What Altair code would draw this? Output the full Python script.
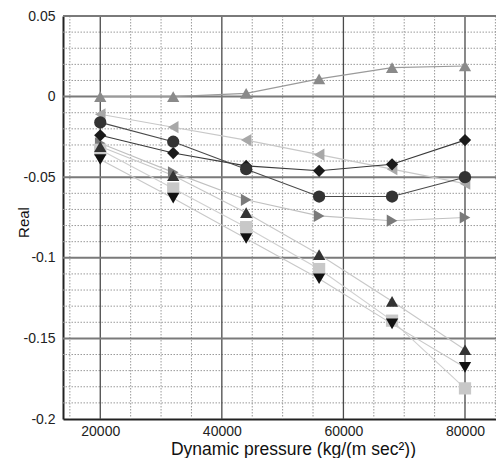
import altair as alt
import pandas as pd

# ---- data ----
x_vals = [20000, 32000, 44000, 56000, 68000, 80000]

series_names = ["up_grey", "left", "right", "square", "up_dark", "down", "diamond", "circle"]
up_grey = [0.000, 0.000, 0.002, 0.011, 0.018, 0.019]
left = [-0.011, -0.019, -0.027, -0.036, -0.045, -0.054]
right = [-0.029, -0.047, -0.064, -0.074, -0.077, -0.075]
square = [-0.033, -0.057, -0.081, -0.107, -0.139, -0.181]
up_dark = [-0.031, -0.049, -0.072, -0.098, -0.127, -0.157]
down = [-0.039, -0.063, -0.088, -0.113, -0.141, -0.168]
diamond = [-0.024, -0.035, -0.043, -0.046, -0.042, -0.027]
circle = [-0.016, -0.028, -0.045, -0.062, -0.062, -0.050]

series_values = [up_grey, left, right, square, up_dark, down, diamond, circle]
shapes = ["triangle-up", "triangle-left", "triangle-right", "square",
          "triangle-up", "triangle-down", "diamond", "circle"]
marker_colors = ["#8a8a8a", "#a8a8a8", "#7a7a7a", "#c8c8c8",
                 "#333333", "#111111", "#1a1a1a", "#333333"]
line_colors = ["#9a9a9a", "#c8c8c8", "#c0c0c0", "#d0d0d0",
               "#c8c8c8", "#c8c8c8", "#3a3a3a", "#4a4a4a"]
marker_sizes = [150, 150, 150, 115, 150, 150, 160, 150]

x_major = [20000, 40000, 60000, 80000]
x_minor = [15000, 25000, 30000, 35000, 45000, 50000, 55000, 65000, 70000, 75000, 85000]
y_major = [0.05, 0.0, -0.05, -0.1, -0.15]
y_minor = [0.04, 0.03, 0.02, 0.01, -0.01, -0.02, -0.03, -0.04,
           -0.06, -0.07, -0.08, -0.09, -0.11, -0.12, -0.13, -0.14,
           -0.16, -0.17, -0.18, -0.19]
y_ticks = [0.05, 0.0, -0.05, -0.1, -0.15, -0.2]

rows = []
for order, (name, vals) in enumerate(zip(series_names, series_values)):
    for xv, yv in zip(x_vals, vals):
        rows.append({"series": name, "order": order, "x": xv, "y": yv})
df = pd.DataFrame(rows)

xscale = alt.Scale(domain=[13870, 85100], nice=False, zero=False)
yscale = alt.Scale(domain=[-0.2, 0.05], nice=False, zero=False)

FONT = "Liberation Sans"

x_axis = alt.Axis(
    title="Dynamic pressure (kg/(m sec²))",
    values=x_major, labelExpr="toString(datum.value)", grid=False,
    tickSize=0, labelPadding=5, domainColor="#222222", domainWidth=2,
    labelFont=FONT, labelFontSize=14, labelColor="#222222",
    titleFont=FONT, titleFontSize=17.5, titleFontWeight="normal", titleColor="#111111",
    titleX=230, titleY=35, titleAlign="center", titleBaseline="alphabetic",
)
y_axis = alt.Axis(
    title="Real",
    values=y_ticks, labelExpr="toString(datum.value)", grid=False,
    tickSize=0, labelPadding=8, domainColor="#222222", domainWidth=2,
    labelFont=FONT, labelFontSize=14, labelColor="#222222",
    titleFont=FONT, titleFontSize=15, titleFontWeight="normal", titleColor="#111111",
    titleX=-35, titleY=206, titleAngle=270, titleAlign="center", titleBaseline="alphabetic",
)

x_enc = alt.X("x:Q", scale=xscale, axis=x_axis)
y_enc = alt.Y("y:Q", scale=yscale, axis=y_axis)

minor_x = alt.Chart(pd.DataFrame({"x": x_minor})).mark_rule(
    color="#9a9a9a", strokeWidth=1, strokeDash=[1.5, 1.5]
).encode(x=x_enc)

minor_y = alt.Chart(pd.DataFrame({"y": y_minor})).mark_rule(
    color="#9a9a9a", strokeWidth=1, strokeDash=[1.5, 1.5]
).encode(y=y_enc)

major_x = alt.Chart(pd.DataFrame({"x": x_major})).mark_rule(
    color="#4a4a4a", strokeWidth=1.3
).encode(x=x_enc)

major_y = alt.Chart(pd.DataFrame({"y": y_major})).mark_rule(
    color="#7a7a7a", strokeWidth=2
).encode(y=y_enc)

lines = alt.Chart(df).mark_line(strokeWidth=1.1).encode(
    x=x_enc, y=y_enc,
    stroke=alt.Stroke("series:N", scale=alt.Scale(domain=series_names, range=line_colors), legend=None),
    detail="series:N",
    order=alt.Order("x:Q"),
)

points = alt.Chart(df).mark_point(filled=True, opacity=1, strokeWidth=0).encode(
    x=x_enc, y=y_enc,
    fill=alt.Fill("series:N", scale=alt.Scale(domain=series_names, range=marker_colors), legend=None),
    shape=alt.Shape("series:N", scale=alt.Scale(domain=series_names, range=shapes), legend=None),
    size=alt.Size("series:N", scale=alt.Scale(domain=series_names, range=marker_sizes), legend=None),
    order=alt.Order("order:Q"),
)

chart = alt.layer(minor_x, minor_y, major_x, major_y, lines, points).properties(
    width=433, height=403,
    autosize=alt.AutoSizeParams(type="none"),
    padding={"left": 55, "top": 8, "right": 0, "bottom": 39},
    background="white",
).configure_view(stroke=None)

chart.save("out.html", embed_options={"renderer": "svg", "actions": False})
